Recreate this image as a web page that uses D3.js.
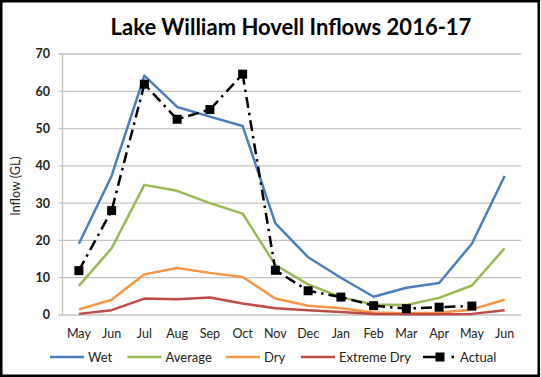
<!DOCTYPE html>
<html lang="en">
  <head>
    <meta charset="UTF-8" />
    <title>Lake William Hovell Inflows 2016-17</title>
    <script src="https://d3js.org/d3.v7.min.js"></script>
    <style>
      body { margin: 0; padding: 0; background: #fff; }
      svg { display: block; font-family: Lato, "Open Sans", sans-serif; }
      .grid line { stroke: #c3c3c3; stroke-width: 1.3; }
      .tick-y { font-size: 12.5px; font-weight: bold; fill: #222; }
      .tick-x { font-size: 12.5px; fill: #222; }
      .legend text { font-size: 13px; fill: #222; }
    </style>
  </head>
  <body>
    <script>
      // Data (GL)
      const months = ["May", "Jun", "Jul", "Aug", "Sep", "Oct", "Nov", "Dec", "Jan", "Feb", "Mar", "Apr", "May", "Jun"];
      const wet = [19.1, 37.3, 64.2, 55.8, 53.2, 50.7, 24.6, 15.5, 10.0, 4.9, 7.3, 8.6, 19.1, 37.3];
      const average = [7.8, 17.9, 34.9, 33.3, 30.0, 27.2, 13.4, 8.2, 4.8, 2.8, 2.7, 4.6, 7.9, 17.9];
      const dry = [1.5, 4.1, 10.9, 12.6, 11.3, 10.2, 4.4, 2.5, 1.8, 0.7, 0.5, 0.6, 1.5, 4.1];
      const extremeDry = [0.3, 1.3, 4.4, 4.2, 4.7, 3.1, 1.8, 1.3, 0.8, 0.3, 0.2, 0.2, 0.3, 1.3];
      const actual = [11.9, 28.0, 61.9, 52.5, 55.1, 64.6, 12.0, 6.5, 4.8, 2.5, 1.7, 2.1, 2.4, null];
      const yTicks = [0, 10, 20, 30, 40, 50, 60, 70];

      const width = 541, height = 377;
      const plot = { left: 62.5, right: 521, top: 54, bottom: 315 };

      const svg = d3.select("body").append("svg")
        .attr("width", width)
        .attr("height", height);

      svg.append("rect")
        .attr("x", 1.25).attr("y", 1.25)
        .attr("width", 537.5).attr("height", 374.5)
        .attr("fill", "#fff")
        .attr("stroke", "#000")
        .attr("stroke-width", 2.5);

      const x = d3.scalePoint()
        .domain(d3.range(months.length))
        .range([plot.left, plot.right])
        .padding(0.5);

      const y = d3.scaleLinear()
        .domain([0, 70])
        .range([plot.bottom, plot.top]);

      // Title
      svg.append("text")
        .attr("x", 291).attr("y", 35)
        .attr("text-anchor", "middle")
        .style("font-size", "22px")
        .style("font-weight", "bold")
        .text("Lake William Hovell Inflows 2016-17");

      // Gridlines
      const grid = svg.append("g").attr("class", "grid");
      grid.selectAll("line")
        .data(yTicks)
        .join("line")
        .attr("x1", plot.left - 4).attr("x2", plot.right)
        .attr("y1", d => y(d)).attr("y2", d => y(d));

      // Vertical axis line
      svg.append("line")
        .attr("x1", plot.left).attr("x2", plot.left)
        .attr("y1", plot.top).attr("y2", plot.bottom)
        .attr("stroke", "#c3c3c3").attr("stroke-width", 1.3);

      svg.append("g").selectAll("text")
        .data(yTicks)
        .join("text")
        .attr("class", "tick-y")
        .attr("x", 50).attr("y", d => y(d))
        .attr("dy", "0.35em")
        .attr("text-anchor", "end")
        .text(d => d);

      svg.append("g").selectAll("text")
        .data(months)
        .join("text")
        .attr("class", "tick-x")
        .attr("x", (d, i) => x(i)).attr("y", 337.5)
        .attr("text-anchor", "middle")
        .text(d => d);

      svg.append("text")
        .attr("transform", "translate(20,186) rotate(-90)")
        .attr("text-anchor", "middle")
        .style("font-size", "12.5px")
        .style("fill", "#222")
        .text("Inflow (GL)");

      const series = [
        { name: "Wet", values: wet, color: "#4a7ebb" },
        { name: "Average", values: average, color: "#98b954" },
        { name: "Dry", values: dry, color: "#f79646" },
        { name: "Extreme Dry", values: extremeDry, color: "#be4b48" }
      ];

      const line = d3.line()
        .defined(d => d != null)
        .x((d, i) => x(i))
        .y(d => y(d));

      series.forEach(s => {
        svg.append("path")
          .attr("d", line(s.values))
          .attr("fill", "none")
          .attr("stroke", s.color)
          .attr("stroke-width", 2.5)
          .attr("stroke-linejoin", "round");
      });

      svg.append("path")
        .attr("d", line(actual))
        .attr("fill", "none")
        .attr("stroke", "#000")
        .attr("stroke-width", 2.5)
        .attr("stroke-dasharray", "11,5,2.5,5");

      svg.append("g").selectAll("rect")
        .data(actual.map((v, i) => ({ v, i })).filter(d => d.v != null))
        .join("rect")
        .attr("x", d => x(d.i) - 4.5).attr("y", d => y(d.v) - 4.5)
        .attr("width", 9).attr("height", 9)
        .attr("fill", "#000");

      // Legend
      const legend = svg.append("g").attr("class", "legend");
      const legendY = 357;
      const legendX = [50, 127.5, 226, 301];
      series.forEach((s, i) => {
        legend.append("line")
          .attr("x1", legendX[i]).attr("x2", legendX[i] + 34)
          .attr("y1", legendY).attr("y2", legendY)
          .attr("stroke", s.color).attr("stroke-width", 2.5);
        legend.append("text")
          .attr("x", legendX[i] + 38).attr("y", legendY)
          .attr("dy", "0.35em")
          .text(s.name);
      });
      legend.append("line")
        .attr("x1", 423).attr("x2", 440)
        .attr("y1", legendY).attr("y2", legendY)
        .attr("stroke", "#000").attr("stroke-width", 2.5);
      legend.append("rect")
        .attr("x", 435.5).attr("y", legendY - 4.5)
        .attr("width", 9).attr("height", 9)
        .attr("fill", "#000");
      legend.append("rect")
        .attr("x", 451.5).attr("y", legendY - 1.25)
        .attr("width", 2.5).attr("height", 2.5)
        .attr("fill", "#000");
      legend.append("text")
        .attr("x", 460).attr("y", legendY)
        .attr("dy", "0.35em")
        .text("Actual");
    </script>
  </body>
</html>
